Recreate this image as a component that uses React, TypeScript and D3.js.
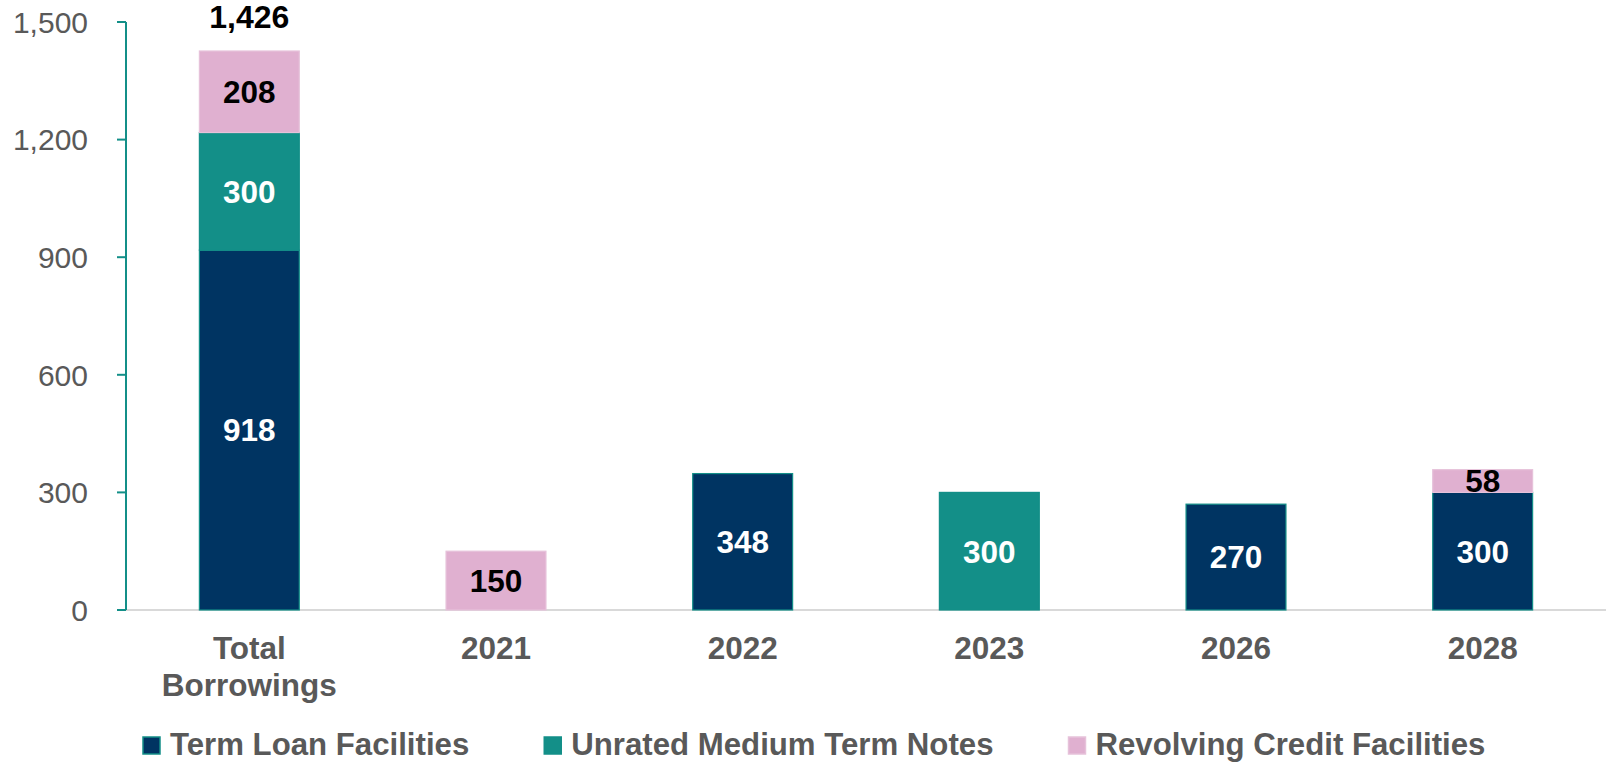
import React, { useEffect, useRef } from 'react'
import * as d3 from 'd3'

const categories = ['Total Borrowings', '2021', '2022', '2023', '2026', '2028']
const termLoan = [918, 0, 348, 0, 270, 300]
const mediumTermNotes = [300, 0, 0, 300, 0, 0]
const revolvingCredit = [208, 150, 0, 0, 0, 58]
const yTicks = [0, 300, 600, 900, 1200, 1500]

const seriesNames = ['Term Loan Facilities', 'Unrated Medium Term Notes', 'Revolving Credit Facilities']
const seriesKeys = ['term', 'mtn', 'rcf']
const colors = { term: '#003462', mtn: '#138f88', rcf: '#e0b0d0' }
const labelColors = { term: '#ffffff', mtn: '#ffffff', rcf: '#000000' }

const FONT = '"Liberation Sans", Arial, Helvetica, sans-serif'

const App = () => {
  const svgRef = useRef(null)

  useEffect(() => {
    const width = 1606
    const height = 765
    const svg = d3.select(svgRef.current)
    svg.selectAll('*').remove()
    svg.attr('width', width).attr('height', height)

    const rows = categories.map((c, i) => ({
      category: c,
      term: termLoan[i],
      mtn: mediumTermNotes[i],
      rcf: revolvingCredit[i]
    }))

    const x = d3.scaleBand()
      .domain(categories)
      .range([126, 1606])
      .paddingInner(0.595)
      .paddingOuter(0.2975)

    const y = d3.scaleLinear()
      .domain([0, 1500])
      .range([610, 22])

    const stacked = d3.stack().keys(seriesKeys)(rows)

    // baseline
    svg.append('line')
      .attr('x1', 126).attr('x2', width)
      .attr('y1', y(0)).attr('y2', y(0))
      .style('stroke', '#d9d9d9')
      .style('stroke-width', 2)

    // bars
    stacked.forEach(layer => {
      const key = layer.key
      svg.append('g')
        .selectAll('rect')
        .data(layer.filter(d => d[1] - d[0] > 0))
        .enter()
        .append('rect')
        .attr('x', d => x(d.data.category))
        .attr('width', x.bandwidth())
        .attr('y', d => y(d[1]))
        .attr('height', d => y(d[0]) - y(d[1]))
        .style('fill', colors[key])
        .style('stroke', key === 'rcf' ? '#e6c2da' : '#138f88')
        .style('stroke-width', 1.2)
    })

    // segment labels
    stacked.forEach(layer => {
      const key = layer.key
      svg.append('g')
        .selectAll('text')
        .data(layer.filter(d => d[1] - d[0] > 0))
        .enter()
        .append('text')
        .attr('x', d => x(d.data.category) + x.bandwidth() / 2)
        .attr('y', d => (y(d[0]) + y(d[1])) / 2)
        .attr('dy', '0.36em')
        .attr('text-anchor', 'middle')
        .style('font-family', FONT)
        .style('font-size', '31.5px')
        .style('font-weight', 'bold')
        .style('fill', labelColors[key])
        .text(d => d3.format(',')(d[1] - d[0]))
    })

    // total label
    const total = termLoan[0] + mediumTermNotes[0] + revolvingCredit[0]
    svg.append('text')
      .attr('x', x(categories[0]) + x.bandwidth() / 2)
      .attr('y', y(total) - 23)
      .attr('text-anchor', 'middle')
      .style('font-family', FONT)
      .style('font-size', '32px')
      .style('font-weight', 'bold')
      .style('fill', '#000')
      .text(d3.format(',')(total))

    // y axis
    const yAxis = svg.append('g')
    yAxis.append('line')
      .attr('x1', 126).attr('x2', 126)
      .attr('y1', y(1500)).attr('y2', y(0))
      .style('stroke', '#138f88')
      .style('stroke-width', 2)
    yAxis.selectAll('.tick')
      .data(yTicks)
      .enter()
      .append('line')
      .attr('x1', 117).attr('x2', 126)
      .attr('y1', d => y(d)).attr('y2', d => y(d))
      .style('stroke', '#138f88')
      .style('stroke-width', 2)
    yAxis.selectAll('.tick-label')
      .data(yTicks)
      .enter()
      .append('text')
      .attr('x', 88)
      .attr('y', d => y(d))
      .attr('dy', '0.36em')
      .attr('text-anchor', 'end')
      .style('font-family', FONT)
      .style('font-size', '30px')
      .style('fill', '#595959')
      .text(d => d3.format(',')(d))

    // x labels
    const xl = svg.append('g')
    categories.forEach(c => {
      const words = c === 'Total Borrowings' ? ['Total', 'Borrowings'] : [c]
      const t = xl.append('text')
        .attr('x', x(c) + x.bandwidth() / 2)
        .attr('y', 659)
        .attr('text-anchor', 'middle')
        .style('font-family', FONT)
        .style('font-size', '31.5px')
        .style('font-weight', 'bold')
        .style('fill', '#595959')
      words.forEach((w, i) => {
        t.append('tspan')
          .attr('x', x(c) + x.bandwidth() / 2)
          .attr('dy', i === 0 ? 0 : 37)
          .text(w)
      })
    })

    // legend
    const legend = svg.append('g')
    let lx = 143
    seriesKeys.forEach((key, i) => {
      legend.append('rect')
        .attr('x', lx).attr('y', 737)
        .attr('width', 17).attr('height', 17)
        .style('fill', colors[key])
        .style('stroke', key === 'rcf' ? '#e6c2da' : '#138f88')
        .style('stroke-width', 1.5)
      const txt = legend.append('text')
        .attr('x', lx + 27)
        .attr('y', 755)
        .style('font-family', FONT)
        .style('font-size', '31.2px')
        .style('font-weight', 'bold')
        .style('fill', '#595959')
        .text(seriesNames[i])
      const w = txt.node().getComputedTextLength()
      lx = lx + 27 + w + 75
    })
  }, [])

  return (
    <div style={{ position: 'absolute', left: 0, top: 0, background: '#fff' }}>
      <svg ref={svgRef} style={{ display: 'block' }}></svg>
    </div>
  )
}

export default App
